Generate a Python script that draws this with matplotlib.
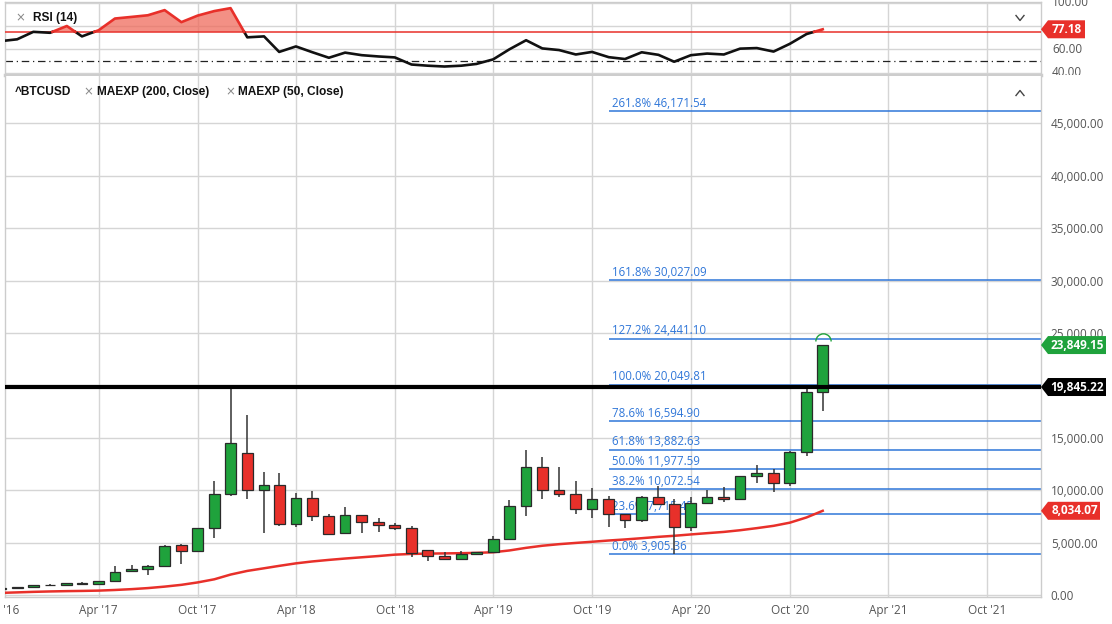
import numpy as np
import pandas as pd
import matplotlib
matplotlib.use('Agg')
import matplotlib.pyplot as plt
import matplotlib.dates as mdates
from matplotlib.patches import Polygon
from matplotlib.lines import Line2D
from matplotlib.transforms import IdentityTransform, Bbox
from matplotlib.path import Path

W, H = 1112, 624

# monthly candles Oct 2016 .. Dec 2020
months = pd.date_range('2016-10-01', '2020-12-01', freq='MS')
opens = [610, 680, 730, 950, 960, 1150, 1080, 1340, 2260, 2480, 2770, 4750,
         4200, 6350, 9600, 13550, 10000, 10500, 6800, 9260, 7540, 5880, 7630, 7000,
         6650, 6350, 4300, 3700, 3450, 3870, 4100, 5300, 8500, 12170, 10000, 9620,
         8180, 9170, 7710, 7130, 9330, 8690, 6460, 8790, 9390, 9140, 11310, 11620,
         10670, 13630, 19360]
highs = [710, 750, 970, 1050, 1180, 1250, 1350, 2740, 2860, 2900, 4750, 4900,
         6400, 10880, 19700, 17200, 11700, 11600, 9700, 9920, 7730, 8430, 7630, 7380,
         6850, 6600, 4300, 4090, 4200, 4100, 5650, 9070, 13800, 13150, 12260, 10900,
         10220, 9490, 7710, 9460, 10410, 9170, 9390, 10030, 10320, 11400, 12420, 12000,
         13760, 19800, 23900]
lows = [600, 670, 720, 880, 920, 920, 1070, 1320, 2170, 1900, 2700, 3000,
        4150, 5470, 9450, 9160, 5950, 6580, 6460, 7030, 5800, 5850, 5880, 6040,
        6250, 3600, 3200, 3400, 3400, 3800, 4050, 5230, 7500, 9130, 9330, 7740,
        7320, 6530, 6430, 6940, 8690, 3910, 6150, 8730, 8890, 9050, 10670, 9870,
        10410, 13280, 17600]
closes = [700, 700, 950, 960, 1150, 1050, 1340, 2200, 2480, 2770, 4720, 4180,
          6350, 9640, 14470, 10000, 10500, 6800, 9260, 7540, 5850, 7630, 6990, 6650,
          6350, 4030, 3700, 3450, 3870, 4100, 5300, 8500, 12200, 10060, 9620, 8180,
          9170, 7710, 7130, 9330, 8690, 6460, 8790, 9390, 9140, 11310, 11620, 10670,
          13630, 19360, 23849.15]
ma50 = [200, 250, 300, 340, 370, 390, 420, 480, 560, 660, 800, 970,
        1200, 1500, 1950, 2300, 2550, 2780, 3020, 3200, 3350, 3480, 3600, 3720,
        3850, 3920, 3950, 3970, 3990, 4020, 4080, 4250, 4500, 4700, 4850, 4970,
        5080, 5200, 5300, 5420, 5550, 5650, 5780, 5900, 6020, 6180, 6380, 6600,
        6900, 7400, 8034.07]
rsi = [67.0, 68.6, 75.0, 74.2, 80.0, 71.1, 76.4, 86.4, 87.8, 89.2, 93.6, 83.3,
       88.9, 92.8, 95.3, 70.3, 71.1, 57.8, 62.5, 57.6, 52.8, 57.2, 55.0, 53.9,
       53.1, 47.0, 46.0, 45.3, 46.0, 47.5, 51.4, 60.0, 67.8, 60.8, 59.4, 55.6,
       57.8, 53.3, 51.7, 57.5, 55.3, 49.4, 55.0, 56.4, 55.6, 60.6, 61.1, 58.1,
       64.7, 73.1, 77.18]
rsi_level = 75

fib_pct = ['261.8%', '161.8%', '127.2%', '100.0%', '78.6%', '61.8%', '50.0%', '38.2%', '23.6%', '0.0%']
fib_val = [46171.54, 30027.09, 24441.10, 20049.81, 16594.90, 13882.63, 11977.59, 10072.54, 7715.45, 3905.36]
fib_start = pd.Timestamp('2019-11-01')
ath = 19845.22

grid_dates = pd.date_range('2016-10-01', '2021-10-01', freq='6MS')
grid_labels = [d.strftime("%b '%y") for d in grid_dates]

GREEN = '#1fa23c'
RED = '#e8302a'
BLUE = '#2f76d8'
GRID = '#d5d5d5'
TXT = '#555555'

fig = plt.figure(figsize=(W / 100, H / 100), dpi=100)


def frac(x0, y0, x1, y1):
    # pixel box (top-left origin) -> add_axes rect
    return [x0 / W, 1 - y1 / H, (x1 - x0) / W, (y1 - y0) / H]


xlim = (mdates.date2num(pd.Timestamp('2016-10-09')), mdates.date2num(pd.Timestamp('2022-01-09')))
ax_r = fig.add_axes(frac(4.7, 2, 1041, 75))
ax = fig.add_axes(frac(4.7, 76, 1041, 597))

for a in (ax, ax_r):
    a.set_xlim(xlim)
    a.set_xticks([d for d in grid_dates if d > pd.Timestamp('2016-10-09')])
    a.set_xticklabels([])
    a.tick_params(length=0)
    a.grid(True, color=GRID, lw=1)
    a.set_axisbelow(True)
    for s in a.spines.values():
        s.set_color('#cccccc')
        s.set_linewidth(1)

# ---- RSI panel ----
ax_r.set_ylim(38.03, 100.56)
ax_r.set_yticks([40, 60, 80, 100])
ax_r.set_yticklabels([])
ax_r.spines['bottom'].set_linewidth(2.5)
ax_r.spines['bottom'].set_color('#cdcdcd')
ax_r.axhline(50, color='#222222', lw=0.9, ls=(0, (6, 3, 1, 3)))
ax_r.axhline(rsi_level, color=RED, lw=1.1, zorder=3)

xm = mdates.date2num(months)
px_, py_ = [], []
for i in range(len(rsi)):
    px_.append(xm[i]); py_.append(rsi[i])
    if i < len(rsi) - 1 and (rsi[i] - rsi_level) * (rsi[i + 1] - rsi_level) < 0:
        t = (rsi_level - rsi[i]) / (rsi[i + 1] - rsi[i])
        px_.append(xm[i] + t * (xm[i + 1] - xm[i])); py_.append(rsi_level)
px_ = np.array(px_); py_ = np.array(py_)
ax_r.fill_between(px_, py_, rsi_level, where=py_ >= rsi_level, color='#ef6b5c', alpha=0.75, lw=0, zorder=2)
ax_r.plot(px_, np.where(py_ <= rsi_level, py_, np.nan), color='#111111', lw=1.9, zorder=4)
ax_r.plot(px_, np.where(py_ >= rsi_level, py_, np.nan), color=RED, lw=1.9, zorder=4)

# ---- main panel ----
ax.set_ylim(-190, 49520)
ax.spines['top'].set_visible(False)
ax.set_yticks(np.arange(0, 50000, 5000))
ax.yaxis.tick_right()
ax.set_yticklabels([f'{v:,.2f}' for v in np.arange(0, 50000, 5000)])
ax.tick_params(axis='y', pad=7, labelcolor=TXT, labelsize=8.5)
for lbl in ax.get_yticklabels():
    lbl.set_fontfamily('Open Sans')

ax.plot(months, ma50, color=RED, lw=1.8, zorder=3)

fib_x0 = mdates.date2num(fib_start)
ax.hlines(fib_val, fib_x0, xlim[1], color=BLUE, lw=1.1, zorder=2)
for p, v in zip(fib_pct, fib_val):
    ax.annotate(f'{p} {v:,.2f}', (fib_x0, v), xytext=(2.5, 1), textcoords='offset points',
                color=BLUE, fontsize=8.3, family='Open Sans', va='bottom', ha='left', zorder=2)

o = np.array(opens); c = np.array(closes)
cols = [GREEN if cc >= oo else RED for oo, cc in zip(o, c)]
ax.vlines(months, lows, highs, color='#333333', lw=1.1, zorder=3.5)
ax.bar(months, np.maximum(np.abs(c - o), 40), bottom=np.minimum(o, c), width=20,
       color=cols, edgecolor='#2a2a2a', lw=0.9, zorder=4)
ax.plot(months[-1], 24250, marker=Path.arc(0, 180), ms=11, mfc='none', mec=GREEN, mew=1, zorder=3)
ax.axhline(ath, color='black', lw=3, zorder=5)

# x labels
for d, s in zip(grid_dates, grid_labels):
    ax.text(mdates.date2num(d), -0.025, s, transform=ax.get_xaxis_transform(), ha='center', va='center',
            fontsize=8.5, color=TXT, family='Open Sans', clip_on=False)

# RSI tick labels (clipped to the panel)
clip = Bbox.from_extents(1042, H - 75, W, H)
for v in [40, 60, 80, 100]:
    yd = ax_r.transData.transform((xlim[0], v))[1]
    t = fig.text(1052 / W, yd / H, f'{v:.2f}', ha='left', va='center', fontsize=8.5, color=TXT,
                 family='Open Sans')
    t.set_clip_box(clip)
    t.set_clip_on(True)


def tag(a, val, text, color, x1):
    yd = a.transData.transform((xlim[0], val))[1]
    x0 = 1041
    hh = 9
    poly = Polygon([(x0, yd), (x0 + 7, yd + hh), (x1, yd + hh), (x1, yd - hh), (x0 + 7, yd - hh)],
                   closed=True, facecolor=color, edgecolor='none', transform=IdentityTransform(), zorder=10)
    fig.add_artist(poly)
    fig.text((x0 + 8 + x1) / 2 / W, yd / H, text, ha='center', va='center', color='white',
             fontsize=8.5, fontweight='bold', family='Open Sans', zorder=11)


tag(ax, closes[-1], f'{closes[-1]:,.2f}', GREEN, 1106)
tag(ax, ath, f'{ath:,.2f}', 'black', 1106)
tag(ax, ma50[-1], f'{ma50[-1]:,.2f}', RED, 1100)
tag(ax_r, rsi[-1], f'{rsi[-1]:.2f}', RED, 1085)

# legends
def ftext(x, y, s, ha='left', **kw):
    fig.text(x / W, 1 - y / H, s, va='center', ha=ha, **kw)

BOLD = dict(fontsize=8.6, fontweight='bold', color='#111111', family='Liberation Sans')
XK = dict(fontsize=8.5, color='#888888', ha='center')
ftext(20.5, 18, '×', **XK)
ftext(33, 18, 'RSI (14)', **BOLD)
ftext(15, 92, '^BTCUSD', **BOLD)
ftext(88.5, 92, '×', **XK)
ftext(97, 92, 'MAEXP (200, Close)', **BOLD)
ftext(230, 92, '×', **XK)
ftext(238, 92, 'MAEXP (50, Close)', **BOLD)

# chevrons
for (cx, cy, up) in [(1020, 18, False), (1020, 93, True)]:
    d = -2.5 if up else 2.5
    ln = Line2D([(cx - 4) / W, cx / W, (cx + 4) / W],
                [1 - (cy - d) / H, 1 - (cy + d) / H, 1 - (cy - d) / H],
                color='#444444', lw=1, transform=fig.transFigure)
    fig.add_artist(ln)

fig.savefig('out.png', dpi=100)
